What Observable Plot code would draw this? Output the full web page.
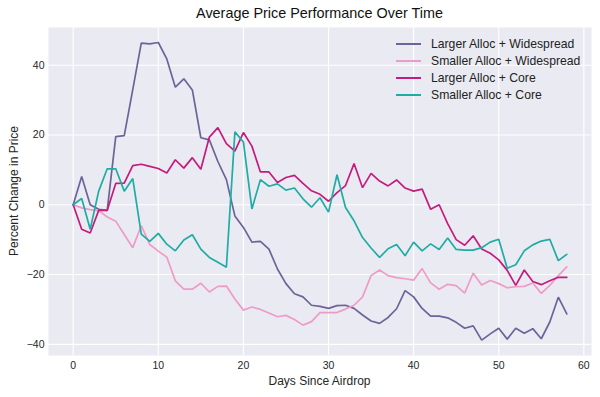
<!DOCTYPE html>
<html>
<head>
<meta charset="utf-8">
<script src="https://cdn.jsdelivr.net/npm/d3@7"></script>
<script src="https://cdn.jsdelivr.net/npm/@observablehq/plot@0.6"></script>
<style>
  html, body { margin: 0; padding: 0; background: #fff; }
  body { font-family: "Liberation Sans", Arial, Helvetica, sans-serif; color: #262626; }
  #wrap { position: relative; width: 600px; height: 397px; overflow: hidden; }
  .title { position: absolute; top: 5px; left: 48px; width: 543px; text-align: center; font-size: 14.4px; color: #111; }
  .xlabel { position: absolute; top: 374px; left: 48px; width: 543px; text-align: center; font-size: 12px; }
  .ylabel { position: absolute; left: 14px; top: 191px; transform: translate(-50%, -50%) rotate(-90deg); white-space: nowrap; font-size: 12px; }
  .legend { position: absolute; left: 396px; top: 35px; font-size: 12.2px; color: #222; }
  .legend .item { display: flex; align-items: center; height: 17px; }
  .legend .sw { width: 25px; height: 2px; margin-right: 10px; }
</style>
</head>
<body>
<div id="wrap">
  <div class="title">Average Price Performance Over Time</div>
  <div id="chart"></div>
  <div class="xlabel">Days Since Airdrop</div>
  <div class="ylabel">Percent Change in Price</div>
  <div class="legend" id="legend"></div>
</div>
<script>
const days = [0,1,2,3,4,5,6,7,8,9,10,11,12,13,14,15,16,17,18,19,20,21,22,23,24,25,26,27,28,29,30,31,32,33,34,35,36,37,38,39,40,41,42,43,44,45,46,47,48,49,50,51,52,53,54,55,56,57,58];

const seriesNames = ["Larger Alloc + Widespread", "Smaller Alloc + Widespread", "Larger Alloc + Core", "Smaller Alloc + Core"];
const seriesColors = ["#6e6399", "#ee9cc7", "#c51b7d", "#1eaca4"];

const largerWidespread = [0,8.1,0,-1.3,-1.6,19.5,19.8,33,46.3,46.1,46.5,
  41.8,33.7,36.1,32.9,19.2,18.6,12.4,7.2,-3.2,-6.5,
  -10.7,-10.5,-12.7,-18.4,-22.6,-25.5,-26.4,-28.8,-29.1,-29.7,
  -28.9,-28.8,-29.7,-31.6,-33.3,-34,-32.3,-29.8,-24.6,-26.4,
  -29.7,-31.9,-31.9,-32.4,-33.7,-35.4,-34.7,-38.8,-37,-35.4,
  -38.5,-35.4,-36.8,-35.5,-38.4,-33.6,-26.5,-31.3];

const smallerWidespread = [0,-0.9,-1.4,-1.7,-3.5,-4.7,-8.5,-12.3,-6,-11.4,-13.3,
  -15,-21.8,-24.2,-24.2,-22.5,-25,-23.4,-23.3,-27,-30.2,
  -29.3,-30,-31,-32.1,-31.7,-32.9,-34.5,-33.5,-30.9,-30.9,
  -30.9,-29.9,-28.8,-26.4,-20.3,-18.7,-20.3,-20.9,-21.2,-21.6,
  -18.3,-22.4,-24.2,-22.8,-23.2,-25.3,-19.6,-23,-21.7,-22.6,
  -23.8,-23.5,-23.4,-22.4,-25.4,-23.1,-20.3,-17.8];

const largerCore = [0,-7,-8.1,-1.6,-1.6,6.1,6.2,11.2,11.6,11,10.4,
  9.1,12.9,10.5,13.5,10.2,19.4,22.1,17.5,15.4,20.7,
  16.8,9.4,9.4,6.4,7.8,8.4,6.1,4,3,1,
  3.5,5.5,11.8,4.9,9,6.8,5.4,7.1,4.8,3.9,
  4.5,-1.3,0,-5.4,-10,-11.6,-8.9,-12.7,-13.9,-15.8,
  -18.8,-23.1,-18.7,-22,-22.9,-21.8,-20.8,-20.8];

const smallerCore = [0,1.8,-7,3.9,10.3,10.3,3.9,7.5,-8.4,-10.5,-8.2,
  -11.3,-13.2,-10.1,-8.6,-12.7,-15.1,-16.5,-17.9,20.9,18,
  -1.2,7.2,5.3,6,4.2,4.8,1.7,-0.7,2,-2.1,
  8.6,-0.8,-4.6,-9.4,-12.4,-15.1,-12.6,-11.4,-14.6,-10.7,
  -13.2,-11.2,-12.8,-9.5,-12.8,-13,-13,-12.3,-10.7,-9.9,
  -18.2,-17.2,-13.2,-11.5,-10.4,-9.9,-16,-14.2];

const xTicks = [0,10,20,30,40,50,60];
const yTicks = [-40,-20,0,20,40];

const allSeries = [largerWidespread, smallerWidespread, largerCore, smallerCore];
const rows = [];
allSeries.forEach((vals, i) => {
  vals.forEach((v, j) => rows.push({day: days[j], value: v, series: seriesNames[i]}));
});

const chart = Plot.plot({
  width: 600,
  height: 397,
  marginLeft: 48,
  marginRight: 9,
  marginTop: 27,
  marginBottom: 42,
  style: {fontFamily: '"Liberation Sans", Arial, sans-serif', fontSize: "10.5px", color: "#262626", background: "transparent"},
  x: {domain: [-2.9, 60.9], ticks: xTicks, label: null},
  y: {domain: [-43.2, 50.8], ticks: yTicks, label: null},
  color: {domain: seriesNames, range: seriesColors},
  marks: [
    Plot.frame({fill: "#eaeaf2", stroke: null}),
    Plot.gridX(xTicks, {stroke: "#ffffff", strokeOpacity: 1, strokeWidth: 1.1}),
    Plot.gridY(yTicks, {stroke: "#ffffff", strokeOpacity: 1, strokeWidth: 1.1}),
    Plot.line(rows, {x: "day", y: "value", z: "series", stroke: "series", strokeWidth: 1.7, strokeLinejoin: "miter"}),
    Plot.axisX(xTicks, {tickSize: 0, tickPadding: 6, label: null, tickFormat: d => String(d).replace("-", "\u2212")}),
    Plot.axisY(yTicks, {tickSize: 0, tickPadding: 4, label: null, tickFormat: d => String(d).replace("-", "\u2212")})
  ]
});
document.getElementById("chart").appendChild(chart);

const legend = document.getElementById("legend");
seriesNames.forEach((name, i) => {
  const item = document.createElement("div");
  item.className = "item";
  const sw = document.createElement("div");
  sw.className = "sw";
  sw.style.background = seriesColors[i];
  const label = document.createElement("span");
  label.textContent = name;
  item.appendChild(sw);
  item.appendChild(label);
  legend.appendChild(item);
});
</script>
</body>
</html>
